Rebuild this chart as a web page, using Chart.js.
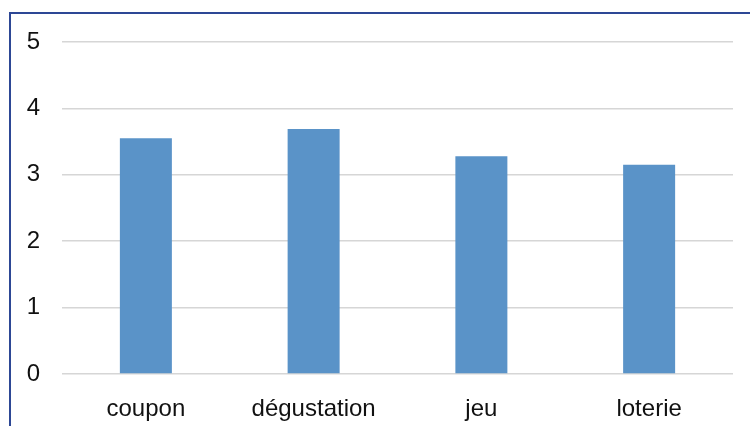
<!DOCTYPE html>
<html>
<head>
<meta charset="utf-8">
<script src="https://cdn.jsdelivr.net/npm/chart.js@4/dist/chart.umd.min.js"></script>
<style>
  html, body { margin: 0; padding: 0; background: #fff; }
  #wrap { position: relative; width: 750px; height: 426px; overflow: hidden; }
  #frame {
    position: absolute; left: 9px; top: 12px; width: 800px; height: 500px;
    border-left: 2px solid #2d4795; border-top: 2px solid #2d4795;
    box-sizing: border-box; pointer-events: none;
  }
  canvas { position: absolute; left: 0; top: 0; }
</style>
</head>
<body>
<div id="wrap">
  <canvas id="chart" width="750" height="426"></canvas>
  <div id="frame"></div>
</div>
<script>
// Average score per promotion type
const categories = ['coupon', 'dégustation', 'jeu', 'loterie'];
const scores = [3.55, 3.69, 3.28, 3.15];
const yTicks = [0, 1, 2, 3, 4, 5];

const font = { family: 'Liberation Sans, Arial, sans-serif', size: 24 };

new Chart(document.getElementById('chart'), {
  type: 'bar',
  data: {
    labels: categories,
    datasets: [{
      data: scores,
      backgroundColor: '#5a93c8',
      borderWidth: 0,
      barPercentage: 0.31,
      categoryPercentage: 1
    }]
  },
  options: {
    responsive: false,
    animation: false,
    layout: { padding: { top: 42, right: 17, left: 0, bottom: 0 } },
    plugins: { legend: { display: false }, tooltip: { enabled: false } },
    scales: {
      x: {
        grid: { display: false, drawTicks: false },
        border: { display: false },
        ticks: { color: '#111', font, padding: 21, maxRotation: 0 },
        afterFit(axis) { axis.height = 52; }
      },
      y: {
        min: 0,
        max: 5,
        afterBuildTicks(axis) { axis.ticks = yTicks.map(v => ({ value: v })); },
        grid: { color: '#d6d6d6', lineWidth: 1.5, drawTicks: false },
        border: { display: false },
        ticks: { color: '#111', font, padding: 22 },
        afterFit(axis) { axis.width = 62; }
      }
    }
  }
});
</script>
</body>
</html>
